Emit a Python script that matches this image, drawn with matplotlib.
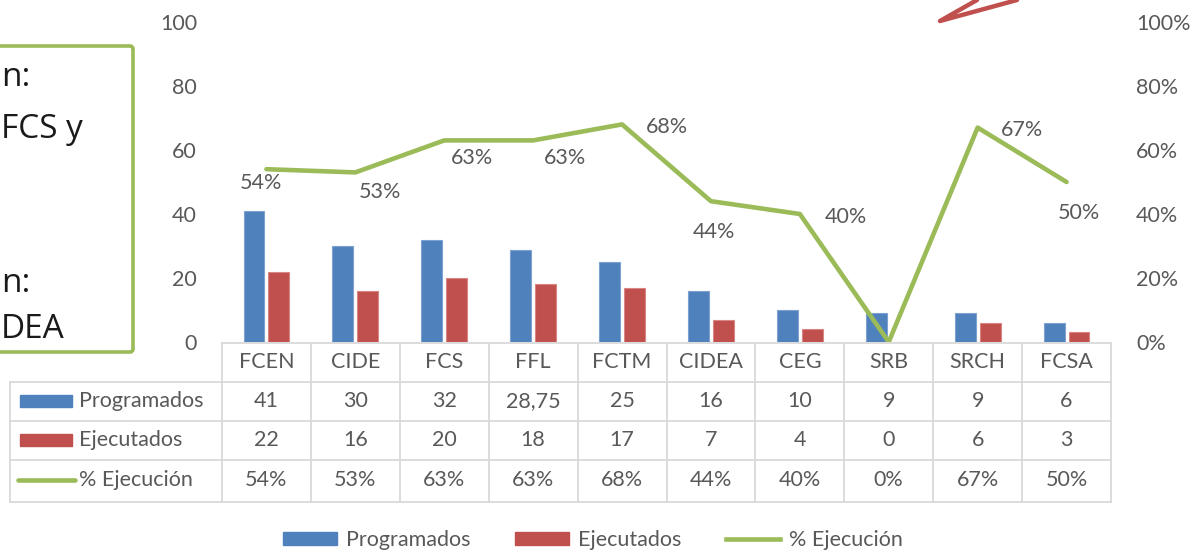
import matplotlib
matplotlib.use("Agg")
import matplotlib.pyplot as plt
import numpy as np
from matplotlib.transforms import blended_transform_factory
from matplotlib.patches import Rectangle, Patch, FancyBboxPatch
from matplotlib.lines import Line2D
from matplotlib.ticker import PercentFormatter

# ---------------- data ----------------
categories = ["FCEN", "CIDE", "FCS", "FFL", "FCTM", "CIDEA", "CEG", "SRB", "SRCH", "FCSA"]
programados = [41, 30, 32, 28.75, 25, 16, 10, 9, 9, 6]
ejecutados = [22, 16, 20, 18, 17, 7, 4, 0, 6, 3]
pct_ejecucion = [54, 53, 63, 63, 68, 44, 40, 0, 67, 50]
series_names = ["Programados", "Ejecutados", "% Ejecución"]
left_ticks = [0, 20, 40, 60, 80, 100]
right_ticks = [0, 0.2, 0.4, 0.6, 0.8, 1.0]
box_fragments = ["n:", "FCS y", "n:", "DEA"]

# ---------------- style ----------------
BLUE = "#4F81BD"
RED = "#C0504D"
GREEN = "#9BBB59"
TXT = "#595959"
GRID = "#D9D9D9"
plt.rcParams["font.family"] = ["Lato", "DejaVu Sans"]
FS = 15.5

W, H = 1192, 553
fig = plt.figure(figsize=(W / 100, H / 100), dpi=100)

# pixel overlay for layout decorations
ov = fig.add_axes([0, 0, 1, 1])
ov.set_xlim(0, W)
ov.set_ylim(H, 0)
ov.axis("off")

# main plot area
L, R, T, B = 222, 1111, 22, 342
ax = fig.add_axes([L / W, (H - B) / H, (R - L) / W, (B - T) / H])
ax.set_xlim(-0.5, len(categories) - 0.5)
ax.set_ylim(0, 100)
ax.patch.set_alpha(0)
for s in ax.spines.values():
    s.set_visible(False)
ax.set_xticks([])
ax.set_yticks(left_ticks)
ax.tick_params(axis="y", length=0, labelsize=FS, labelcolor=TXT, pad=18)

x = np.arange(len(categories))
bw = 0.235
ax.bar(x - 0.14, programados, width=bw, color=BLUE, edgecolor="#7DA2D0", linewidth=0.8)
ax.bar(x + 0.14, ejecutados, width=bw, color=RED, edgecolor="#D98583", linewidth=0.8)

ax2 = ax.twinx()
ax2.set_ylim(0, 1)
for s in ax2.spines.values():
    s.set_visible(False)
ax2.set_yticks(right_ticks)
ax2.yaxis.set_major_formatter(PercentFormatter(1.0, decimals=0))
ax2.tick_params(axis="y", length=0, labelsize=FS, labelcolor=TXT, pad=18)
pct = np.array(pct_ejecucion) / 100.0
ax2.plot(x, pct, color=GREEN, lw=3.3, solid_joinstyle="round", solid_capstyle="round")

# data labels (manual offsets, in points)
offsets = [(-4, -10), (18, -14), (20, -13), (23, -13), (32, -2), (2, -22),
           (33, -2), None, (32, -2), (9, -22)]
for xi, p, off in zip(x, pct_ejecucion, offsets):
    if off is None:
        continue
    ax2.annotate(f"{p}%", (xi, p / 100.0), xytext=off, textcoords="offset points",
                 ha="center", va="center", fontsize=FS, color=TXT)

# ---------------- data table ----------------
tr = blended_transform_factory(ax.transData, ov.transData)
rows_y = [343, 382, 421, 460, 502]
n = len(categories)
lw_t = 1.3
ov.add_line(Line2D([-0.5, n - 0.5], [343, 343], transform=tr, color=GRID, lw=lw_t))
for yy in rows_y[1:]:
    ov.add_line(Line2D([-0.5, n - 0.5], [yy, yy], transform=tr, color=GRID, lw=lw_t))
    ov.add_line(Line2D([10, L], [yy, yy], color=GRID, lw=lw_t))
for k in range(n + 1):
    ov.add_line(Line2D([k - 0.5, k - 0.5], [343, 502], transform=tr, color=GRID, lw=lw_t))
ov.add_line(Line2D([10, 10], [382, 502], color=GRID, lw=lw_t))

def fmt(v):
    s = f"{v:g}"
    return s.replace(".", ",")

for i, c in enumerate(categories):
    ov.text(i, 362, c, transform=tr, ha="center", va="center", fontsize=FS, color=TXT)
    ov.text(i, 401, fmt(programados[i]), transform=tr, ha="center", va="center", fontsize=FS, color=TXT)
    ov.text(i, 440, fmt(ejecutados[i]), transform=tr, ha="center", va="center", fontsize=FS, color=TXT)
    ov.text(i, 480, f"{pct_ejecucion[i]}%", transform=tr, ha="center", va="center", fontsize=FS, color=TXT)

# legend keys inside table
ov.add_patch(Rectangle((20, 395), 52, 12, color=BLUE))
ov.add_patch(Rectangle((20, 434), 52, 12, color=RED))
ov.add_line(Line2D([18, 75], [480, 480], color=GREEN, lw=3.3, solid_capstyle="round"))
for yy, name in zip([401, 440, 480], series_names):
    ov.text(79, yy, name, ha="left", va="center", fontsize=FS, color=TXT)

# ---------------- bottom legend ----------------
handles = [Patch(color=BLUE), Patch(color=RED), Line2D([], [], color=GREEN, lw=3.3)]
fig.legend(handles, series_names, loc="center", bbox_to_anchor=(593 / W, 1 - 540 / H),
           ncol=3, frameon=False, fontsize=FS, labelcolor=TXT, handlelength=2.5,
           handleheight=0.55, handletextpad=0.4, columnspacing=2.1)

# ---------------- left text box (cropped) ----------------
ov.add_patch(FancyBboxPatch((-20, 46), 153, 306, boxstyle="round,pad=0,rounding_size=3",
                            facecolor="white", edgecolor=GREEN, lw=2.6))
box_pos = [(1, 78), (83, 130), (1, 283), (1, 330)]
box_ha = ["left", "right", "left", "left"]
for (bx, by), t, ha in zip(box_pos, box_fragments, box_ha):
    ov.text(bx, by, t, ha=ha, va="center", fontsize=24, color="#1a1a1a",
            family=["Open Sans", "DejaVu Sans"])

# ---------------- red arrow fragment ----------------
ov.add_line(Line2D([977, 940, 1017], [0, 21, 0], color=RED, lw=3.2,
                   solid_joinstyle="round", solid_capstyle="round"))

fig.savefig("out.png", dpi=100)
